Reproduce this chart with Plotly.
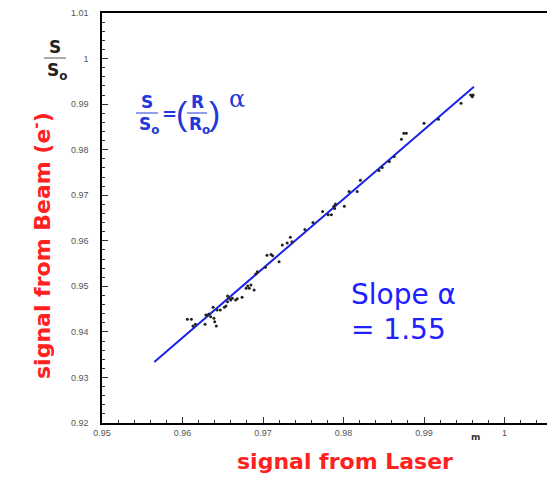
import plotly.graph_objects as go

# ---- data ----
laser = [0.9606, 0.9611, 0.9613, 0.9616, 0.9628, 0.9629, 0.9631, 0.9633, 0.9635, 0.9639,
         0.9640, 0.9642, 0.9638, 0.9643, 0.9647, 0.9652, 0.9654, 0.9656, 0.9656, 0.9658,
         0.9660, 0.9662, 0.9666, 0.9674, 0.9668, 0.9679, 0.9681, 0.9683, 0.9685, 0.9689,
         0.9691, 0.9693, 0.9703, 0.9705, 0.9710, 0.9712, 0.9720, 0.9724, 0.9730, 0.9736,
         0.9734, 0.9752, 0.9762, 0.9774, 0.9781, 0.9785, 0.9788, 0.9790, 0.9789, 0.9801,
         0.9807, 0.9817, 0.9821, 0.9844, 0.9848, 0.9857, 0.9863, 0.9872, 0.9875, 0.9878,
         0.9900, 0.9918, 0.9946, 0.9958, 0.9960, 0.9961]
beam = [0.9428, 0.9428, 0.9413, 0.9417, 0.9417, 0.9437, 0.9437, 0.9439, 0.9433, 0.9430,
        0.9422, 0.9413, 0.9454, 0.9448, 0.9448, 0.9454, 0.9457, 0.9466, 0.9479, 0.9474,
        0.9470, 0.9474, 0.9470, 0.9476, 0.9473, 0.9496, 0.9501, 0.9496, 0.9503, 0.9492,
        0.9527, 0.9532, 0.9542, 0.9568, 0.9570, 0.9567, 0.9554, 0.9591, 0.9595, 0.9598,
        0.9608, 0.9625, 0.9640, 0.9664, 0.9657, 0.9657, 0.9676, 0.9681, 0.9671, 0.9676,
        0.9708, 0.9708, 0.9733, 0.9754, 0.9761, 0.9774, 0.9785, 0.9823, 0.9836, 0.9836,
        0.9858, 0.9867, 0.9902, 0.9920, 0.9916, 0.9920]
fit_x = [0.9565, 0.9962]
fit_y = [0.9334, 0.9938]

x_range = [0.95, 1.00528]
y_range = [0.92, 1.01]

W, H = 547, 477
L, R, T, B = 102, 0, 13, 54
PW, PH = W - L - R, H - T - B


def px(x):
    return (x - L) / PW


def py(y):
    return (H - B - y) / PH


fig = go.Figure()
fig.add_trace(go.Scatter(x=fit_x, y=fit_y, mode="lines",
                         line=dict(color="#1a22e6", width=2), showlegend=False))
fig.add_trace(go.Scatter(x=laser, y=beam, mode="markers",
                         marker=dict(color="#222222", size=3), showlegend=False))

tickfont = dict(family="Liberation Sans, Arial", size=9, color="#555555")
fig.update_xaxes(range=x_range, showgrid=False, zeroline=False,
                 showline=True, linecolor="black", linewidth=2, mirror=True,
                 ticks="inside", ticklen=6, tickcolor="#333", dtick=0.01, tick0=0.95,
                 tickfont=tickfont,
                 minor=dict(dtick=0.002, ticks="inside", ticklen=3, tickcolor="#333"))
fig.update_yaxes(range=y_range, showgrid=False, zeroline=False,
                 showline=True, linecolor="black", linewidth=1.5,
                 ticks="inside", ticklen=6, tickcolor="#333", dtick=0.01, tick0=0.92,
                 tickfont=tickfont, ticklabelstandoff=10,
                 minor=dict(dtick=0.002, ticks="inside", ticklen=3, tickcolor="#333"))

blue = "#2238d8"
red = "#ff2020"
ann = []
shapes = []


def text(x, y, s, size, color, bold=False, family="DejaVu Sans", angle=0, xanchor="center"):
    ann.append(dict(x=px(x), y=py(y), xref="paper", yref="paper", text=(f"<b>{s}</b>" if bold else s),
                    showarrow=False, xanchor=xanchor, yanchor="middle", textangle=angle,
                    font=dict(size=size, color=color, family=family)))


def hline(x0, x1, y, color, w=1):
    shapes.append(dict(type="line", xref="paper", yref="paper", x0=px(x0), x1=px(x1),
                       y0=py(y), y1=py(y), line=dict(color=color, width=w)))


# S / S0 label at top-left
text(55, 47, "S", 17, "#222222", bold=True)
hline(44, 66, 58, "#555555", 1)
text(57, 71, "S<sub>o</sub>", 17, "#222222", bold=True)

# formula
text(147, 102, "S", 17, blue, bold=True)
hline(136, 158, 113, blue, 1)
text(149, 125, "S<sub>o</sub>", 17, blue, bold=True)
text(169, 113, "=", 18, blue, bold=True)
text(182, 113, "(", 34, blue, family="Liberation Sans")
text(197, 102, "R", 17, blue, bold=True)
hline(187, 207, 113, blue, 1)
text(199, 125, "R<sub>o</sub>", 17, blue, bold=True)
text(214, 113, ")", 34, blue, family="Liberation Sans")
text(237, 99, "α", 24, blue, family="DejaVu Serif")

# slope text
text(349, 294, "Slope α", 28, "#2020ff", xanchor="left")
text(349, 329, "= 1.55", 28, "#2020ff", xanchor="left")

# axis titles
text(345, 461, "signal from Laser", 22, red, bold=True, family="DejaVu Sans")
text(41, 246, "signal from Beam (e<sup>-</sup>)", 22, red, bold=True, family="DejaVu Sans", angle=-90)

# small stray label near axis
text(475, 437, "m", 9, "#333333", bold=True)

fig.update_layout(width=W, height=H, margin=dict(l=L, r=R, t=T, b=B),
                  paper_bgcolor="white", plot_bgcolor="white",
                  annotations=ann, shapes=shapes)

fig.write_html("out.html")
